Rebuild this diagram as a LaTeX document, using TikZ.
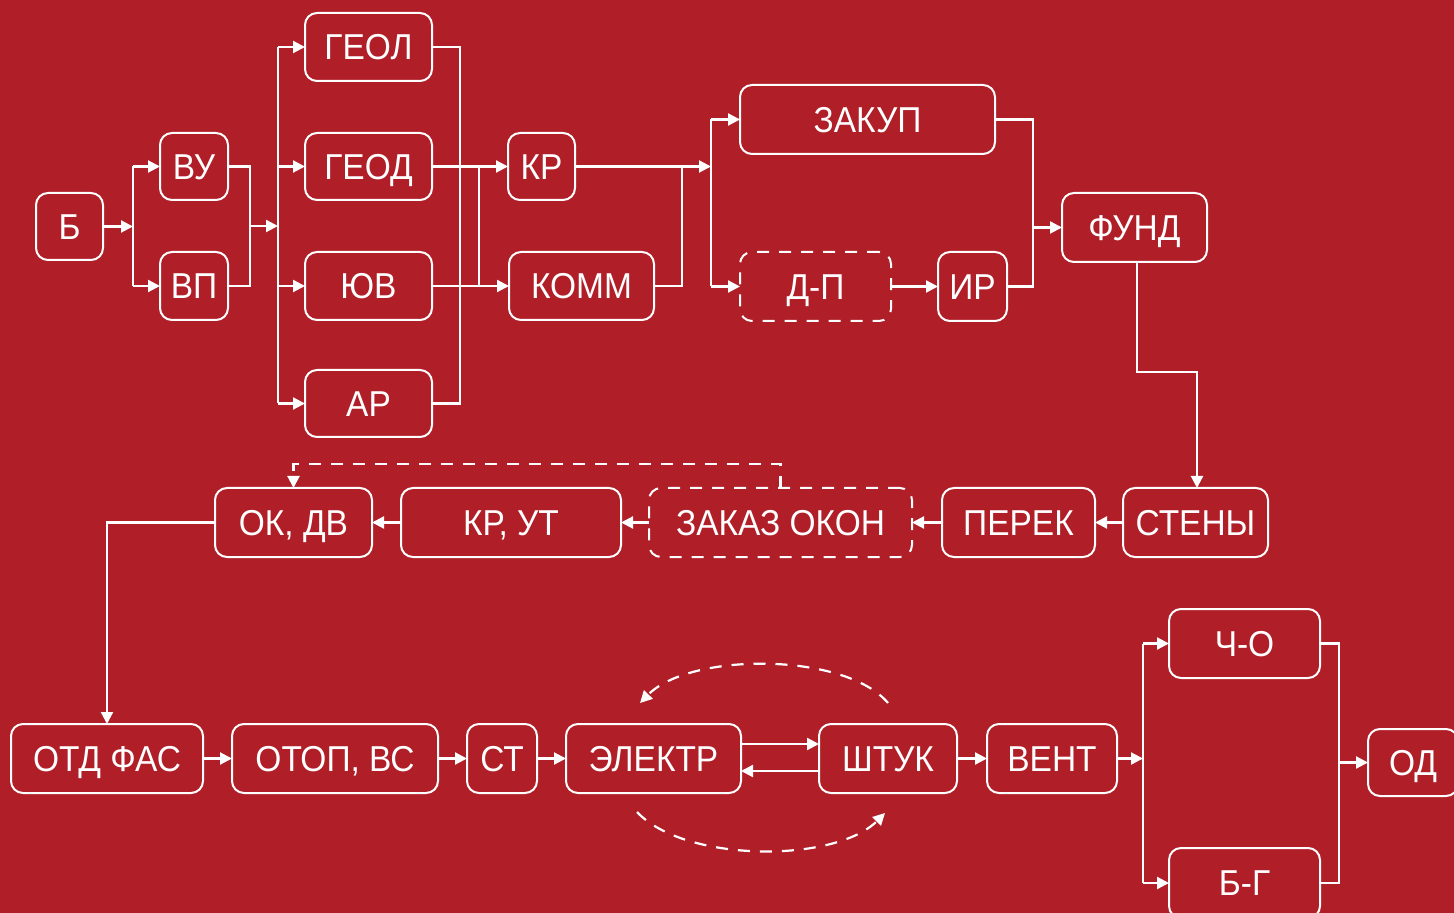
\documentclass[tikz,border=0pt]{standalone}
\usepackage{fontspec}
\setmainfont{Liberation Sans}[FakeStretch=0.93]
\usetikzlibrary{arrows.meta,calc}
\definecolor{bg}{RGB}{176,30,39}
\tikzset{
 box/.style={draw=white, line width=1pt, rounded corners=6pt, inner sep=0pt, outer sep=0pt,
   text=white, font=\fontsize{18}{20}\selectfont, text height=12.9pt, text depth=0pt},
 dbox/.style={box, dash pattern=on 6pt off 5pt},
 wire/.style={draw=white, line width=1.1pt},
 arr/.style={wire, -{Triangle[length=6pt,width=6pt]}},
 darr/.style={arr, dash pattern=on 6pt off 5pt},
}
\newcommand\bx[7][box]{\node[#1, minimum width={(#5-#3)*0.5pt}, minimum height={(#6-#4)*0.5pt}] (#2) at ({(#3+#5)/2},{(#4+#6)/2}) {#7};}
\begin{document}
\begin{tikzpicture}[x=0.5pt,y=-0.5pt]
\useasboundingbox (0,0) rectangle (1454,913);
\clip (0,0) rectangle (1454,913);
\fill[bg] (0,0) rectangle (1454,913);
% top block
\bx{B}{36}{193}{103}{260}{Б}
\bx{VU}{160}{133}{228}{200}{ВУ}
\bx{VP}{160}{252}{228}{320}{ВП}
\bx{GEOL}{305}{13}{432}{81}{ГЕОЛ}
\bx{GEOD}{305}{133}{432}{200}{ГЕОД}
\bx{YUV}{305}{252}{432}{320}{ЮВ}
\bx{AR}{305}{370}{432}{437}{АР}
\bx{KR}{508}{133}{575}{200}{КР}
\bx{KOMM}{509}{252}{654}{320}{КОММ}
\bx{ZAKUP}{740}{85}{995}{154}{ЗАКУП}
\bx[dbox]{DP}{740}{252}{891}{321}{Д-П}
\bx{IR}{938}{252}{1007}{321}{ИР}
\bx{FUND}{1062}{193}{1207}{262}{ФУНД}
% middle row
\bx{STENY}{1123}{488}{1268}{557}{СТЕНЫ}
\bx{PEREK}{942}{488}{1095}{557}{ПЕРЕК}
\bx[dbox]{ZAKAZ}{649}{488}{912}{557}{ЗАКАЗ ОКОН}
\bx{KRUT}{401}{488}{621}{557}{КР, УТ}
\bx{OKDV}{215}{488}{372}{557}{ОК, ДВ}
% bottom row
\bx{OTD}{11}{724}{203}{793}{ОТД ФАС}
\bx{OTOP}{232}{724}{438}{793}{ОТОП, ВС}
\bx{ST}{467}{724}{537}{793}{СТ}
\bx{EL}{566}{724}{741}{793}{ЭЛЕКТР}
\bx{SHT}{819}{724}{957}{793}{ШТУК}
\bx{VENT}{987}{724}{1117}{793}{ВЕНТ}
\bx{CHO}{1169}{609}{1320}{678}{Ч-О}
\bx{BG}{1169}{848}{1320}{918}{Б-Г}
\bx{OD}{1368}{729}{1458}{796}{ОД}
% connectors top
\coordinate (c1) at (133,226.5);
\draw[arr] (B.east) -- (c1);
\draw[wire] (c1 |- VU.west) -- (c1 |- VP.west);
\draw[arr] (c1 |- VU.west) -- (VU.west);
\draw[arr] (c1 |- VP.west) -- (VP.west);
\coordinate (c2) at (250,226);
\draw[wire] (VU.east) -| (c2) |- (VP.east);
\coordinate (c3) at (278,226);
\draw[arr] (c2) -- (c3);
\draw[wire] (c3 |- GEOL.west) -- (c3 |- AR.west);
\foreach \n in {GEOL,GEOD,YUV,AR} \draw[arr] (c3 |- \n.west) -- (\n.west);
\coordinate (c4) at (460,226);
\draw[wire] (GEOL.east) -| (c4) |- (AR.east);
\draw[arr] (GEOD.east) -- (KR.west);
\draw[arr] (YUV.east) -- (KOMM.west);
\coordinate (c5) at (479,226);
\draw[wire] (c5 |- GEOD.east) -- (c5 |- YUV.east);
\coordinate (c6) at (711,166.5);
\draw[arr] (KR.east) -- (c6);
\coordinate (c7) at (682,166.5);
\draw[wire] (KOMM.east) -| (c7);
\draw[wire] (c6 |- ZAKUP.west) -- (c6 |- DP.west);
\draw[arr] (c6 |- ZAKUP.west) -- (ZAKUP.west);
\draw[arr] (c6 |- DP.west) -- (DP.west);
\draw[arr] (DP.east) -- (IR.west);
\coordinate (c8) at (1033,227.5);
\draw[wire] (ZAKUP.east) -| (c8) |- (IR.east);
\draw[arr] (c8) -- (FUND.west);
\coordinate (c9) at (1160,372);
\draw[arr] ([xshift=1.25pt]FUND.south) |- (c9) -| ([xshift=0.75pt]STENY.north);
% middle row
\draw[arr] (STENY.west) -- (PEREK.east);
\draw[arr] (PEREK.west) -- (ZAKAZ.east);
\draw[arr] (ZAKAZ.west) -- (KRUT.east);
\draw[arr] (KRUT.west) -- (OKDV.east);
\coordinate (c10) at (537,464);
\draw[darr] (ZAKAZ.north) |- (c10) -| (OKDV.north);
\draw[arr] (OKDV.west) -| (OTD.north);
% bottom row
\draw[arr] (OTD.east) -- (OTOP.west);
\draw[arr] (OTOP.east) -- (ST.west);
\draw[arr] (ST.east) -- (EL.west);
\draw[arr] ([yshift=7.25pt]EL.east) -- ([yshift=7.25pt]SHT.west);
\draw[arr] ([yshift=-6.25pt]SHT.west) -- ([yshift=-6.25pt]EL.east);
\draw[arr] (SHT.east) -- (VENT.west);
\coordinate (c11) at (1143,758.5);
\draw[arr] (VENT.east) -- (c11);
\draw[wire] (c11 |- CHO.west) -- (c11 |- BG.west);
\draw[arr] (c11 |- CHO.west) -- (CHO.west);
\draw[arr] (c11 |- BG.west) -- (BG.west);
\coordinate (c12) at (1339,762.5);
\draw[wire] (CHO.east) -| (c12) |- (BG.east);
\draw[arr] (c12) -- (OD.west);
% dashed arcs
\coordinate (a1) at (888,703);
\coordinate (a2) at (640,703);
\draw[darr] (a1) .. controls (845,652) and (690,652) .. (a2);
\coordinate (b1) at (637,812);
\coordinate (b2) at (885,813);
\draw[darr] (b1) .. controls (685,863) and (835,863) .. (b2);
\end{tikzpicture}
\end{document}
